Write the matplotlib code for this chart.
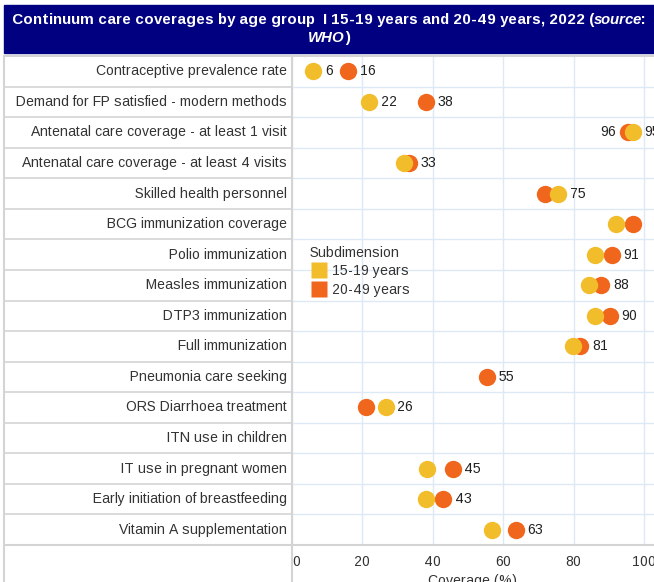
import numpy as np
import matplotlib
matplotlib.use("Agg")
import matplotlib.pyplot as plt
from matplotlib.lines import Line2D
from matplotlib.patches import Rectangle
from matplotlib.transforms import blended_transform_factory

plt.rcParams['font.family'] = ['Liberation Sans', 'DejaVu Sans']
plt.rcParams['text.hinting_factor'] = 1

# data
indicators = [
    'Contraceptive prevalence rate',
    'Demand for FP satisfied - modern methods',
    'Antenatal care coverage - at least 1 visit',
    'Antenatal care coverage - at least 4 visits',
    'Skilled health personnel',
    'BCG immunization coverage',
    'Polio immunization',
    'Measles immunization',
    'DTP3 immunization',
    'Full immunization',
    'Pneumonia care seeking',
    'ORS Diarrhoea treatment',
    'ITN use in children',
    'IT use in pregnant women',
    'Early initiation of breastfeeding',
    'Vitamin A supplementation',
]
teen = [6.0, 22.0, 96.8, 31.8, 75.6, 92.0, 86.0, 84.5, 86.0, 79.7,
        np.nan, 26.6, np.nan, 38.3, 38.0, 56.7]
adult = [16.0, 38.0, 95.4, 33.3, 72.0, 97.0, 90.8, 87.8, 90.2, 81.8,
         55.5, 20.9, np.nan, 45.6, 43.0, 63.5]
teen_labels = ['6', '22', '95', '', '75', '', '', '', '', '',
               '', '26', '', '', '', '']
adult_labels = ['16', '38', '96', '33', '', '', '91', '88', '90', '81',
                '55', '', '', '45', '43', '63']
series_names = ['15-19 years', '20-49 years']
xticks = [0, 20, 40, 60, 80, 100]

YELLOW = '#F2BD2A'
ORANGE = '#F0661D'
NAVY = '#000080'
GRID = '#DDE9F5'
BORDER = '#D4D4D4'
TXT = '#333333'
FS = 10.4

W, H = 654, 582
fig = plt.figure(figsize=(W / 100, H / 100), dpi=100)


def fx(px):
    return px / W


def fy(py):
    return 1 - py / H


# layout in pixels
left_px, right_px = 292, 654
top_px, bottom_px = 56, 545
px_per_unit = 3.52

ax = fig.add_axes([fx(left_px), fy(bottom_px), fx(right_px - left_px),
                   (bottom_px - top_px) / H])
n = len(indicators)
ax.set_ylim(n, 0)
ax.set_xlim(0, (right_px - left_px) / px_per_unit)
for s in ax.spines.values():
    s.set_visible(False)

ax.set_xticks(xticks)
ax.set_yticks([])
ax.set_yticks(np.arange(1, n), minor=True)
ax.tick_params(axis='x', length=0, labelsize=FS, labelcolor=TXT, pad=7)
ax.tick_params(axis='y', which='both', length=0)
ax.grid(axis='x', color=GRID, lw=1)
ax.grid(axis='y', which='minor', color=GRID, lw=1)
ax.set_axisbelow(True)
labs = ax.get_xticklabels()
labs[0].set_ha('left')
labs[0].set_x(1.1)
ax.set_xlabel('Coverage (%)', fontsize=FS, color=TXT, labelpad=4)

y = np.arange(n) + 0.5
ax.plot(adult, y, 'o', color=ORANGE, ms=12.5, mec='none', zorder=3)
ax.plot(teen, y, 'o', color=YELLOW, ms=12.5, mec='none', zorder=4)

# value labels
for i in range(n):
    pts = []
    if teen_labels[i]:
        pts.append((teen[i], teen_labels[i]))
    if adult_labels[i]:
        pts.append((adult[i], adult_labels[i]))
    pts.sort()
    for k, (v, t) in enumerate(pts):
        other = [p[0] for j, p in enumerate(pts) if j != k]
        if k == 0 and other and abs(other[0] - v) < 5:
            ax.annotate(t, (v, y[i]), xytext=(-8, 0), textcoords='offset points',
                        ha='right', va='center', fontsize=FS, color='#222222',
                        annotation_clip=False, clip_on=True)
        else:
            ax.annotate(t, (v, y[i]), xytext=(8.5, 0), textcoords='offset points',
                        ha='left', va='center', fontsize=FS, color='#222222',
                        annotation_clip=False, clip_on=True)

# row labels in left panel
tr = blended_transform_factory(fig.transFigure, ax.transData)
for i, name in enumerate(indicators):
    ax.text(fx(287), y[i], name, transform=tr, ha='right', va='center',
            fontsize=FS, color=TXT, clip_on=False)
for b in range(1, n):
    ax.add_line(Line2D([fx(4), fx(left_px)], [b, b], transform=tr,
                       color=BORDER, lw=1.2, clip_on=False))

# table borders
fig.add_artist(Line2D([fx(4), fx(W)], [fy(top_px), fy(top_px)], color=BORDER, lw=1.5))
fig.add_artist(Line2D([fx(4), fx(W)], [fy(bottom_px), fy(bottom_px)], color=BORDER, lw=1.5))
fig.add_artist(Line2D([fx(4), fx(4)], [fy(top_px), 0], color=BORDER, lw=1.5))
fig.add_artist(Line2D([fx(left_px), fx(left_px)], [fy(top_px), 0], color=BORDER, lw=1.5))

# legend
handles = [Line2D([], [], ls='none', marker='s', ms=11, color=c, mec='none')
           for c in (YELLOW, ORANGE)]
leg = ax.legend(handles, series_names, title='Subdimension', loc='upper left',
                bbox_to_anchor=((310 - left_px) / (right_px - left_px),
                                (bottom_px - 246) / (bottom_px - top_px)),
                frameon=False, fontsize=FS, title_fontsize=FS,
                handlelength=1.2, handletextpad=0.3, labelspacing=0.3,
                borderaxespad=0, borderpad=0, alignment='left')
for t in leg.get_texts():
    t.set_color(TXT)
leg.get_title().set_color(TXT)

# title bar
fig.add_artist(Rectangle((fx(4), fy(53)), fx(W - 4), 48 / H, color=NAVY,
                         transform=fig.transFigure, zorder=0))


def centered_line(segments, ypx):
    fig.canvas.draw()
    r = fig.canvas.get_renderer()
    texts = []
    for s, style in segments:
        t = fig.text(0, fy(ypx), s, color='white', fontsize=10.5, fontweight='bold',
                     fontstyle=style, va='center', ha='left')
        texts.append(t)
    widths = [t.get_window_extent(r).width for t in texts]
    x = (W + 4) / 2 - sum(widths) / 2
    for t, w in zip(texts, widths):
        t.set_x(x / W)
        x += w


centered_line([('Continuum care coverages by age group  I 15-19 years and 20-49 years, 2022 (', 'normal'),
               ('source', 'italic'), (':', 'normal')], 20)
centered_line([('WHO', 'italic'), (')', 'normal')], 38)

fig.savefig('out.png', dpi=100)
